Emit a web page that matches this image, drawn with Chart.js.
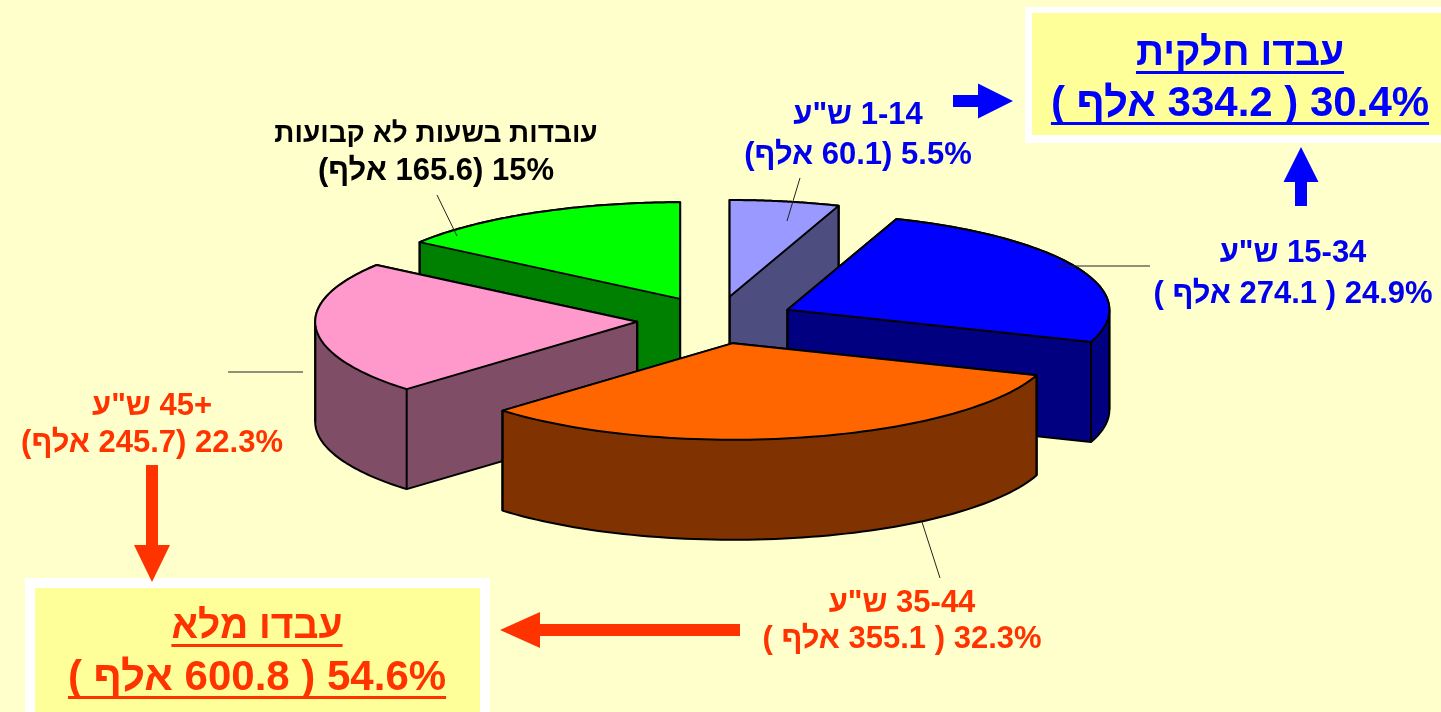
<!DOCTYPE html>
<html lang="he">
<head>
<meta charset="utf-8">
<script src="https://cdn.jsdelivr.net/npm/chart.js@4.4.1/dist/chart.umd.min.js"></script>
<style>
  html, body { margin: 0; padding: 0; background: #ffffcc; overflow: hidden; }
  #wrap { position: relative; width: 1441px; height: 712px; }
</style>
</head>
<body>
<div id="wrap"><canvas id="pieChart"></canvas></div>
<script>
// slices, clockwise from 12 o'clock
const ageRanges = ["1-14", "15-34", "35-44", "45+", ""];
const sliceShares = [5.5, 24.9, 32.3, 22.3, 15];
const sliceThousands = [60.1, 274.1, 355.1, 245.7, 165.6];
const topColors = ["#9999ff", "#0000ff", "#ff6600", "#ff99cc", "#00ff00"];
const wallColors = ["#4d4d80", "#000080", "#803300", "#804d66", "#008000"];
const labelColors = ["#0000ee", "#0000ee", "#ff3300", "#ff3300", "#000000"];
const paddedParens = [false, true, true, false, false];

const irregularTitle = "עובדות בשעות לא קבועות";
const hoursAbbr = "ש\"ע";
const thousandWord = "אלף";

const partTitle = "עבדו חלקית";
const partShare = 30.4;
const partThousands = 334.2;
const fullTitle = "עבדו מלא";
const fullShare = 54.6;
const fullThousands = 600.8;

// 3d look
const TILT = 0.3;
const DEPTH = 100;
const EXPLODE = 79;
const RADIUS = 322;

const FONT = (size) => `bold ${size}px "Liberation Sans", Arial, "DejaVu Sans", sans-serif`;

function centerOf(chart) {
  const a = chart.chartArea;
  return { cx: (a.left + a.right) / 2, cy: (a.top + a.bottom) / 2 };
}

function midAngle(arc) {
  return (arc.startAngle + arc.endAngle) / 2;
}

// outline of one slice top, in screen coords
function facePoints(arc, cy, dy) {
  const toY = (y) => cy + (y - cy) * TILT + dy;
  const pts = [[arc.x, toY(arc.y)]];
  const n = 72;
  for (let s = 0; s <= n; s++) {
    const a = arc.startAngle + (arc.endAngle - arc.startAngle) * s / n;
    pts.push([arc.x + arc.outerRadius * Math.cos(a), toY(arc.y + arc.outerRadius * Math.sin(a))]);
  }
  return pts;
}

function convexHull(points) {
  const p = points.slice().sort((a, b) => a[0] - b[0] || a[1] - b[1]);
  const cross = (o, a, b) => (a[0] - o[0]) * (b[1] - o[1]) - (a[1] - o[1]) * (b[0] - o[0]);
  const lower = [], upper = [];
  for (const q of p) {
    while (lower.length >= 2 && cross(lower[lower.length - 2], lower[lower.length - 1], q) <= 0) lower.pop();
    lower.push(q);
  }
  for (let i = p.length - 1; i >= 0; i--) {
    const q = p[i];
    while (upper.length >= 2 && cross(upper[upper.length - 2], upper[upper.length - 1], q) <= 0) upper.pop();
    upper.push(q);
  }
  upper.pop(); lower.pop();
  return lower.concat(upper);
}

function polyPath(pts) {
  const path = new Path2D();
  pts.forEach(([x, y], i) => i ? path.lineTo(x, y) : path.moveTo(x, y));
  path.closePath();
  return path;
}

function drawWall(ctx, arc, color, cy) {
  const top = facePoints(arc, cy, 0);
  const hull = convexHull(top.concat(facePoints(arc, cy, DEPTH)));
  ctx.save();
  ctx.lineWidth = 2;
  ctx.lineJoin = "round";
  ctx.strokeStyle = "#000";
  ctx.fillStyle = color;
  const body = polyPath(hull);
  ctx.fill(body);
  ctx.stroke(body);

  // vertical edges on the front side
  const topPath = polyPath(top);
  const corners = [top[0], top[1], top[top.length - 1]];
  const r = arc.outerRadius;
  [0, Math.PI, 2 * Math.PI, -Math.PI, 3 * Math.PI].forEach((a) => {
    if (a > arc.startAngle && a < arc.endAngle) {
      corners.push([arc.x + r * Math.cos(a), cy + (arc.y - cy) * TILT]);
    }
  });
  corners.forEach(([x, y]) => {
    if (!ctx.isPointInPath(topPath, x, y + 2)) {
      ctx.beginPath();
      ctx.moveTo(x, y);
      ctx.lineTo(x, y + DEPTH);
      ctx.stroke();
    }
  });
  ctx.restore();
}

const pie3d = {
  id: "pie3d",
  afterDatasetUpdate(chart, args) {
    const { cx, cy } = centerOf(chart);
    args.meta.data.forEach((arc) => {
      const m = midAngle(arc);
      arc.x = cx + Math.cos(m) * EXPLODE;
      arc.y = cy + Math.sin(m) * EXPLODE;
    });
  },
  beforeDatasetsDraw(chart) {
    const ctx = chart.ctx;
    const { cy } = centerOf(chart);
    const arcs = chart.getDatasetMeta(0).data;
    const order = arcs.map((a, i) => i).sort((i, j) => Math.sin(midAngle(arcs[i])) - Math.sin(midAngle(arcs[j])));
    order.forEach((i) => drawWall(ctx, arcs[i], wallColors[i], cy));

    // squash the pie tops into an ellipse
    ctx.save();
    ctx.translate(0, cy);
    ctx.scale(1, TILT);
    ctx.translate(0, -cy);
  },
  afterDatasetsDraw(chart) {
    const ctx = chart.ctx;
    ctx.restore();
    const { cy } = centerOf(chart);
    ctx.save();
    ctx.lineWidth = 2;
    ctx.lineJoin = "round";
    ctx.strokeStyle = "#000";
    chart.getDatasetMeta(0).data.forEach((arc) => ctx.stroke(polyPath(facePoints(arc, cy, 0))));
    ctx.restore();
  }
};

function drawSegments(ctx, segments, cx, baseline, size, color, underline) {
  ctx.font = FONT(size);
  ctx.direction = "ltr";
  ctx.textAlign = "left";
  ctx.textBaseline = "alphabetic";
  ctx.fillStyle = color;
  const widths = segments.map((s) => ctx.measureText(s).width);
  const total = widths.reduce((a, b) => a + b, 0);
  let x = cx - total / 2;
  segments.forEach((s, i) => {
    ctx.fillText(s, x, baseline);
    x += widths[i];
  });
  if (underline) ctx.fillRect(cx - total / 2, baseline + underline, total, 3);
}

// visual left-to-right pieces of "( X אלף ) Y%"
function amountLine(thousands, share, padded) {
  const sp = padded ? " " : "";
  return ["(" + sp, thousandWord, " " + thousands + sp + ") " + share + "%"];
}

function drawArrow(ctx, x1, y1, x2, y2, shaft, headW, headL, color) {
  const len = Math.hypot(x2 - x1, y2 - y1);
  ctx.save();
  ctx.translate(x1, y1);
  ctx.rotate(Math.atan2(y2 - y1, x2 - x1));
  ctx.fillStyle = color;
  ctx.beginPath();
  ctx.moveTo(0, -shaft / 2);
  ctx.lineTo(len - headL, -shaft / 2);
  ctx.lineTo(len - headL, -headW / 2);
  ctx.lineTo(len, 0);
  ctx.lineTo(len - headL, headW / 2);
  ctx.lineTo(len - headL, shaft / 2);
  ctx.lineTo(0, shaft / 2);
  ctx.closePath();
  ctx.fill();
  ctx.restore();
}

function leader(ctx, x1, y1, x2, y2) {
  ctx.save();
  ctx.strokeStyle = "#222";
  ctx.lineWidth = 1;
  ctx.beginPath();
  ctx.moveTo(x1, y1);
  ctx.lineTo(x2, y2);
  ctx.stroke();
  ctx.restore();
}

// label anchor: centre x, first baseline, second baseline, first line size
const labelSpots = [[858, 124, 164, 31], [1293, 262, 303, 31], [902, 612, 648, 31], [152, 415, 452, 31], [436, 142, 180, 28]];

const annotations = {
  id: "annotations",
  afterDraw(chart) {
    const ctx = chart.ctx;

    leader(ctx, 800, 178, 787, 221);
    leader(ctx, 1058, 266, 1150, 266);
    leader(ctx, 922, 522, 940, 578);
    leader(ctx, 228, 372, 303, 372);
    leader(ctx, 437, 195, 457, 236);

    labelSpots.forEach(([x, b1, b2, size1], i) => {
      const first = ageRanges[i] ? [hoursAbbr, " " + ageRanges[i]] : [irregularTitle];
      drawSegments(ctx, first, x, b1, size1, labelColors[i]);
      drawSegments(ctx, amountLine(sliceThousands[i], sliceShares[i], paddedParens[i]), x, b2, 31, labelColors[i]);
    });

    // part-time box
    ctx.fillStyle = "#ffffff";
    ctx.fillRect(1025, 7, 420, 136);
    ctx.fillStyle = "#ffff99";
    ctx.fillRect(1032, 13, 420, 122);
    drawSegments(ctx, [partTitle], 1240, 65, 39, "#0000ff", 6);
    drawSegments(ctx, amountLine(partThousands, partShare, true), 1240, 116, 42, "#0000ff", 6);

    // full-time box
    ctx.fillStyle = "#ffffff";
    ctx.fillRect(25, 578, 465, 140);
    ctx.fillStyle = "#ffff99";
    ctx.fillRect(35, 588, 445, 130);
    drawSegments(ctx, [fullTitle], 257, 638, 39, "#ff3300", 6);
    drawSegments(ctx, amountLine(fullThousands, fullShare, true), 257, 690, 42, "#ff3300", 6);

    drawArrow(ctx, 953, 101, 1013, 101, 12, 35, 35, "#0000ff");
    drawArrow(ctx, 1301, 206, 1301, 147, 12, 35, 35, "#0000ff");
    drawArrow(ctx, 152, 465, 152, 582, 12, 36, 37, "#ff3300");
    drawArrow(ctx, 740, 630, 500, 630, 12, 36, 40, "#ff3300");
  }
};

new Chart(document.getElementById("pieChart"), {
  type: "pie",
  data: {
    labels: ageRanges.map((r) => r || irregularTitle),
    datasets: [{
      data: sliceShares,
      backgroundColor: topColors,
      borderWidth: 0
    }]
  },
  options: {
    responsive: true,
    maintainAspectRatio: false,
    animation: false,
    events: [],
    radius: RADIUS,
    layout: { padding: { left: 0, right: 9, top: 0, bottom: 72 } },
    plugins: {
      legend: { display: false },
      tooltip: { enabled: false }
    }
  },
  plugins: [pie3d, annotations]
});
</script>
</body>
</html>
